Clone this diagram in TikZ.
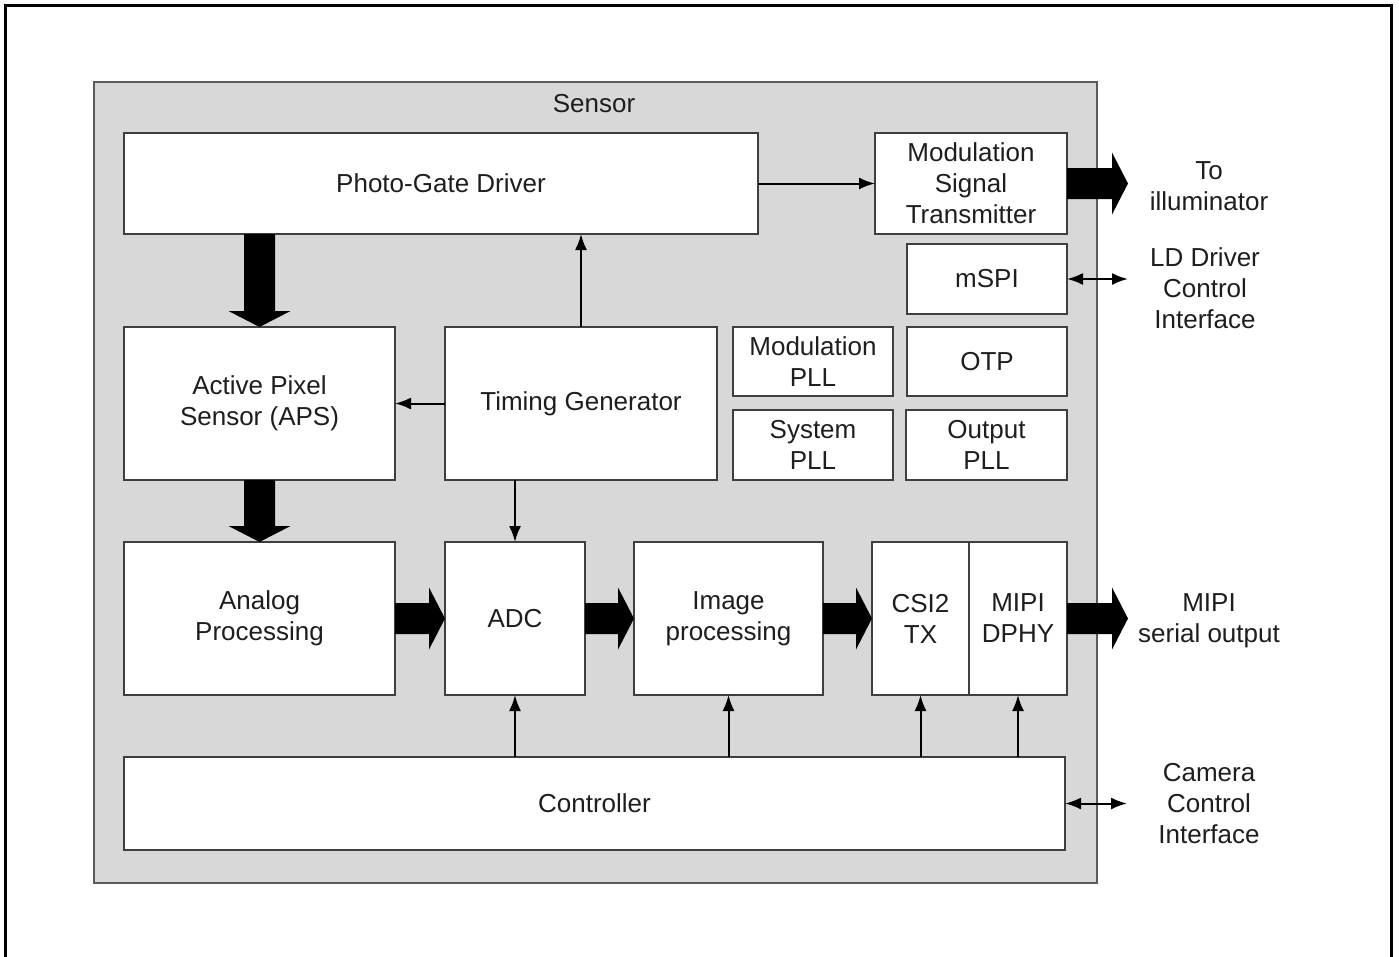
\documentclass[tikz,border=0pt]{standalone}
\usepackage{fontspec}
\setmainfont{Liberation Sans}
\usetikzlibrary{arrows.meta,calc}
\definecolor{sens}{HTML}{D8D8D8}
\definecolor{edge}{HTML}{3F3F3F}
\definecolor{sedge}{HTML}{5A5A5A}
\definecolor{txt}{HTML}{1E1E1E}
\newcommand{\fs}{\fontsize{26}{31}\selectfont}
\tikzset{
 blk/.style={draw=edge, line width=1.3pt, fill=white, inner sep=0pt, outer sep=0pt, align=center, text=txt, font=\fs, anchor=north west},
 thinarr/.style={draw=black, line width=2pt, -{Latex[length=16pt,width=12pt]}},
 botharr/.style={draw=black, line width=2pt, {Latex[length=16pt,width=12pt]}-{Latex[length=16pt,width=12pt]}},
 lbl/.style={align=center, text=txt, font=\fs, inner sep=0pt},
 fat/.style={fill=black},
}
\newcommand{\fatH}[2]{\fill[fat] let \p1=(#1), \p2=(#2) in (\x1,\y1+15.5pt) -- (\x2-16pt,\y1+15.5pt) -- (\x2-16pt,\y1+31pt) -- (\x2,\y1) -- (\x2-16pt,\y1-31pt) -- (\x2-16pt,\y1-15.5pt) -- (\x1,\y1-15.5pt) -- cycle;}
\newcommand{\fatV}[2]{\fill[fat] let \p1=(#1), \p2=(#2) in (\x1-15.5pt,\y1) -- (\x1-15.5pt,\y2+16pt) -- (\x1-31pt,\y2+16pt) -- (\x1,\y2) -- (\x1+31pt,\y2+16pt) -- (\x1+15.5pt,\y2+16pt) -- (\x1+15.5pt,\y1) -- cycle;}
\begin{document}
\begin{tikzpicture}[x=1pt,y=-1pt]
\useasboundingbox (0,0) rectangle (1399,956);
\fill[white] (0,0) rectangle (1399,956);
\draw[line width=3pt] (5,962) -- (5,5) -- (1391,5) -- (1391,962);
\node[draw=sedge, line width=1.8pt, fill=sens, anchor=north west, minimum width=1003pt, minimum height=801pt, inner sep=0pt] (sensor) at (93,81) {};
\node[lbl] (senslbl) at (594,104) {Sensor};
% boxes
\node[blk, minimum width=634pt, minimum height=101pt] (pgd) at (124,133) {Photo-Gate Driver};
\node[blk, minimum width=192pt, minimum height=101pt] (mst) at (875,133) {Modulation\\Signal\\Transmitter};
\node[blk, minimum width=160pt, minimum height=70pt] (mspi) at (907,244) {mSPI};
\node[blk, minimum width=271pt, minimum height=153pt] (aps) at (124,327) {Active Pixel\\Sensor (APS)};
\node[blk, minimum width=272pt, minimum height=153pt] (tg) at (445,327) {Timing Generator};
\node[blk, minimum width=160pt, minimum height=69pt] (mpll) at (733,327) {Modulation\\PLL};
\node[blk, minimum width=160pt, minimum height=69pt] (otp) at (907,327) {OTP};
\node[blk, minimum width=160pt, minimum height=70pt] (spll) at (733,410) {System\\PLL};
\node[blk, minimum width=161pt, minimum height=70pt] (opll) at (906,410) {Output\\PLL};
\node[blk, minimum width=271pt, minimum height=153pt] (ana) at (124,542) {Analog\\Processing};
\node[blk, minimum width=140pt, minimum height=153pt] (adc) at (445,542) {ADC};
\node[blk, minimum width=189pt, minimum height=153pt] (img) at (634,542) {Image\\processing};
\node[blk, minimum width=97pt, minimum height=153pt] (csi) at (872,542) {CSI2\\TX};
\node[blk, minimum width=98pt, minimum height=153pt] (mipi) at (969,542) {MIPI\\DPHY};
\node[blk, minimum width=941pt, minimum height=93pt] (ctl) at (124,757) {Controller};
% external labels
\node[lbl] (ill) at (1209,186) {To\\illuminator};
\node[lbl] (ldd) at (1205,288) {LD Driver\\Control\\Interface};
\node[lbl] (mso) at (1209,621) {MIPI\\serial output};
\node[lbl] (cci) at (1209,804) {Camera\\Control\\Interface};
\coordinate (outi) at (1128,183.5);
\coordinate (outm) at (1128,618.5);
\coordinate (spiext) at (1128,279);
\coordinate (ctlext) at (1127,803.5);
% thin arrows
\draw[thinarr] (pgd.east) -- (mst.west);
\draw[thinarr] (tg.north) -- (tg.north |- pgd.south);
\draw[thinarr] (tg.west) -- (aps.east);
\draw[thinarr] (tg.south -| adc.north) -- (adc.north);
\draw[thinarr] (ctl.north -| adc.south) -- (adc.south);
\draw[thinarr] (ctl.north -| img.south) -- (img.south);
\draw[thinarr] (ctl.north -| csi.south) -- (csi.south);
\draw[thinarr] (ctl.north -| mipi.south) -- (mipi.south);
\draw[botharr] (mspi.east) -- (spiext);
\draw[botharr] (ctl.east) -- (ctlext);
% fat arrows
\fatV{pgd.south -| aps.north}{aps.north}
\fatV{aps.south}{ana.north}
\fatH{ana.east}{adc.west}
\fatH{adc.east}{img.west}
\fatH{img.east}{csi.west}
\fatH{mipi.east}{outm}
\fatH{mst.east}{outi}
\end{tikzpicture}
\end{document}
